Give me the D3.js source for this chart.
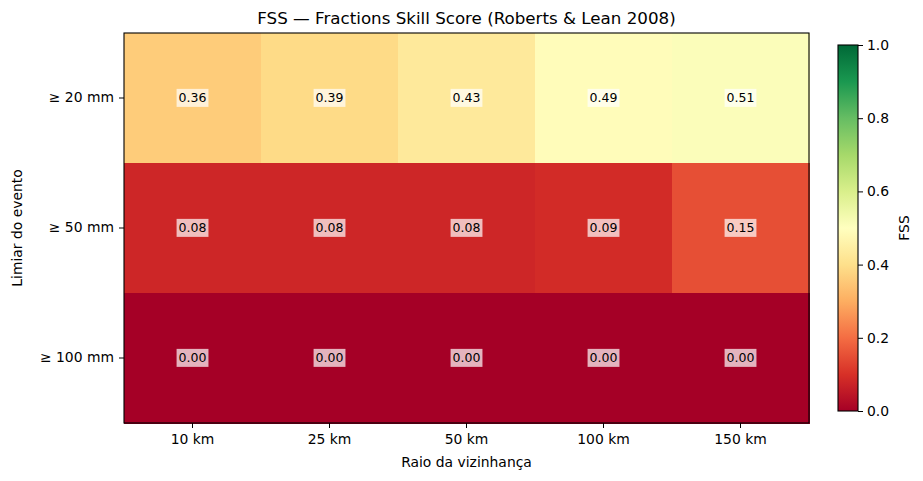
<!DOCTYPE html>
<html>
<head>
<meta charset="utf-8">
<script src="https://cdn.jsdelivr.net/npm/d3@7"></script>
<style>
  body { margin: 0; background: #fff; }
  text { font-family: "DejaVu Sans", sans-serif; fill: #000; }
</style>
</head>
<body>
<svg id="chart" width="923" height="481"></svg>
<script>
// data
const radii = ['10 km', '25 km', '50 km', '100 km', '150 km'];
const thresholds = ['≥ 20 mm', '≥ 50 mm', '≥ 100 mm'];
const fss20 = [0.36, 0.39, 0.43, 0.49, 0.51];
const fss50 = [0.08, 0.08, 0.08, 0.09, 0.15];
const fss100 = [0.00, 0.00, 0.00, 0.00, 0.00];
const cbTicks = [0, 0.2, 0.4, 0.6, 0.8, 1.0];

// matplotlib RdYlGn stops
const rdylgn = ['#a50026', '#d73027', '#f46d43', '#fdae61', '#fee08b', '#ffffbf',
  '#d9ef8b', '#a6d96a', '#66bd63', '#1a9850', '#006837'];

const rows = [fss20, fss50, fss100];
const cells = [];
rows.forEach((r, i) => r.forEach((v, j) => cells.push({ row: thresholds[i], col: radii[j], v })));

const svg = d3.select('#chart');
const m = { left: 124, top: 33, right: 809, bottom: 423 };

const x = d3.scaleBand().domain(radii).range([m.left, m.right]);
const y = d3.scaleBand().domain(thresholds).range([m.top, m.bottom]);
const color = d3.scaleLinear()
  .domain(d3.range(rdylgn.length).map(i => i / (rdylgn.length - 1)))
  .range(rdylgn)
  .interpolate(d3.interpolateRgb)
  .clamp(true);

// heatmap cells
svg.append('g').selectAll('rect')
  .data(cells).join('rect')
  .attr('x', d => x(d.col))
  .attr('y', d => y(d.row))
  .attr('width', x.bandwidth() + 0.5)
  .attr('height', y.bandwidth() + 0.5)
  .attr('fill', d => color(d.v))
  .attr('shape-rendering', 'crispEdges');

// cell labels with a translucent white box
const lab = svg.append('g').selectAll('g')
  .data(cells).join('g')
  .attr('transform', d => `translate(${x(d.col) + x.bandwidth() / 2},${y(d.row) + y.bandwidth() / 2})`);
lab.append('text')
  .attr('text-anchor', 'middle')
  .attr('dy', '0.35em')
  .style('font-size', '12.5px')
  .text(d => d.v.toFixed(2));
lab.each(function() {
  const g = d3.select(this);
  const bb = g.select('text').node().getBBox();
  g.insert('rect', 'text')
    .attr('x', bb.x - 2).attr('y', bb.y - 1.5)
    .attr('width', bb.width + 4).attr('height', bb.height + 3)
    .attr('fill', '#fff').attr('fill-opacity', 0.7);
});

// axes
const xAxis = svg.append('g')
  .attr('transform', `translate(0,${m.bottom})`)
  .call(d3.axisBottom(x).tickSize(5).tickPadding(6));
const yAxis = svg.append('g')
  .attr('transform', `translate(${m.left},0)`)
  .call(d3.axisLeft(y).tickSize(5).tickPadding(5));
[xAxis, yAxis].forEach(a => {
  a.select('.domain').remove();
  a.selectAll('text').style('font-size', '13.9px').attr('fill', '#000');
  a.selectAll('line').attr('stroke', '#000').attr('stroke-width', 1);
});

svg.append('rect')
  .attr('x', m.left).attr('y', m.top)
  .attr('width', m.right - m.left).attr('height', m.bottom - m.top)
  .attr('fill', 'none').attr('stroke', '#000').attr('stroke-width', 1.1);

// titles
svg.append('text')
  .attr('x', (m.left + m.right) / 2).attr('y', 24)
  .attr('text-anchor', 'middle')
  .style('font-size', '16.7px')
  .text('FSS — Fractions Skill Score (Roberts & Lean 2008)');
svg.append('text')
  .attr('x', (m.left + m.right) / 2).attr('y', 467)
  .attr('text-anchor', 'middle')
  .style('font-size', '13.9px')
  .text('Raio da vizinhança');
svg.append('text')
  .attr('transform', `translate(22,${(m.top + m.bottom) / 2}) rotate(-90)`)
  .attr('text-anchor', 'middle')
  .style('font-size', '13.9px')
  .text('Limiar do evento');

// colorbar
const cb = { x: 838, y0: 45, y1: 411, w: 20 };
const cy = d3.scaleLinear().domain([0, 1]).range([cb.y1, cb.y0]);
const defs = svg.append('defs');
const grad = defs.append('linearGradient')
  .attr('id', 'cbgrad').attr('x1', 0).attr('y1', 1).attr('x2', 0).attr('y2', 0);
grad.selectAll('stop')
  .data(rdylgn).join('stop')
  .attr('offset', (d, i) => i / (rdylgn.length - 1))
  .attr('stop-color', d => d);
svg.append('rect')
  .attr('x', cb.x).attr('y', cb.y0)
  .attr('width', cb.w).attr('height', cb.y1 - cb.y0)
  .attr('fill', 'url(#cbgrad)')
  .attr('stroke', '#000').attr('stroke-width', 1.1);
const cAxis = svg.append('g')
  .attr('transform', `translate(${cb.x + cb.w},0)`)
  .call(d3.axisRight(cy).tickValues(cbTicks).tickFormat(d3.format('.1f')).tickSize(5).tickPadding(4));
cAxis.select('.domain').remove();
cAxis.selectAll('text').style('font-size', '13.9px').attr('fill', '#000');
cAxis.selectAll('line').attr('stroke', '#000');
svg.append('text')
  .attr('transform', `translate(909,${(cb.y0 + cb.y1) / 2}) rotate(-90)`)
  .attr('text-anchor', 'middle')
  .style('font-size', '13.9px')
  .text('FSS');
</script>
</body>
</html>
